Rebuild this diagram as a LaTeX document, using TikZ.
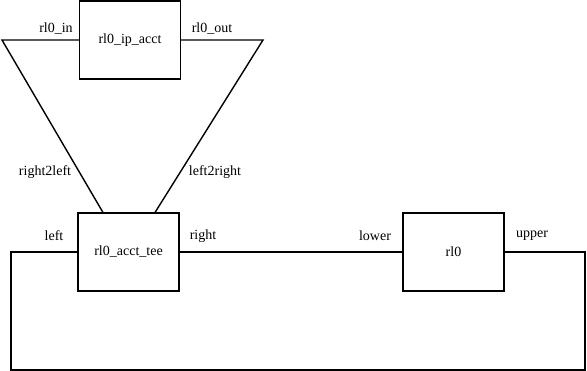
\documentclass[tikz,border=0pt]{standalone}
\usepackage{fontspec}
\setmainfont{Liberation Serif}
\begin{document}
\begin{tikzpicture}[x=1pt,y=-1pt,
  box/.style={draw,line width=1.4pt,minimum width=101pt,minimum height=78pt,inner sep=0pt,font=\fontsize{14}{16}\selectfont},
  lbl/.style={font=\fontsize{14}{16}\selectfont,inner sep=0pt},
  wire/.style={line width=1.4pt}]
\useasboundingbox (0,0) rectangle (587,371);
\node[box] (ip) at (130,40) {rl0\_ip\_acct};
\node[box] (tee) at (128.5,252) {rl0\_acct\_tee};
\node[box] (rl) at (453.5,252) {rl0};
\coordinate (ipl) at (2,40);
\coordinate (ipr) at (263,40);
\coordinate (teel) at (103,212.5);
\coordinate (teer) at (155,212.5);
\coordinate (c1) at (11,252);
\coordinate (c2) at (11,370);
\coordinate (c3) at (585,370);
\coordinate (c4) at (585,252);
\draw[wire] (ip.west) -- (ipl) -- (teel);
\draw[wire] (ip.east) -- (ipr) -- (teer);
\draw[wire] (tee.east) -- (rl.west);
\draw[wire] (tee.west) -- (c1) -- (c2) -- (c3) -- (c4) -- (rl.east);
\node[lbl] (l1) at (56,29) {rl0\_in};
\node[lbl] (l2) at (212,29) {rl0\_out};
\node[lbl] (l3) at (45,172) {right2left};
\node[lbl] (l4) at (215,172) {left2right};
\node[lbl] (l5) at (54,236) {left};
\node[lbl] (l6) at (203,236) {right};
\node[lbl] (l7) at (375,236) {lower};
\node[lbl] (l8) at (532,236) {upper};
\end{tikzpicture}
\end{document}
